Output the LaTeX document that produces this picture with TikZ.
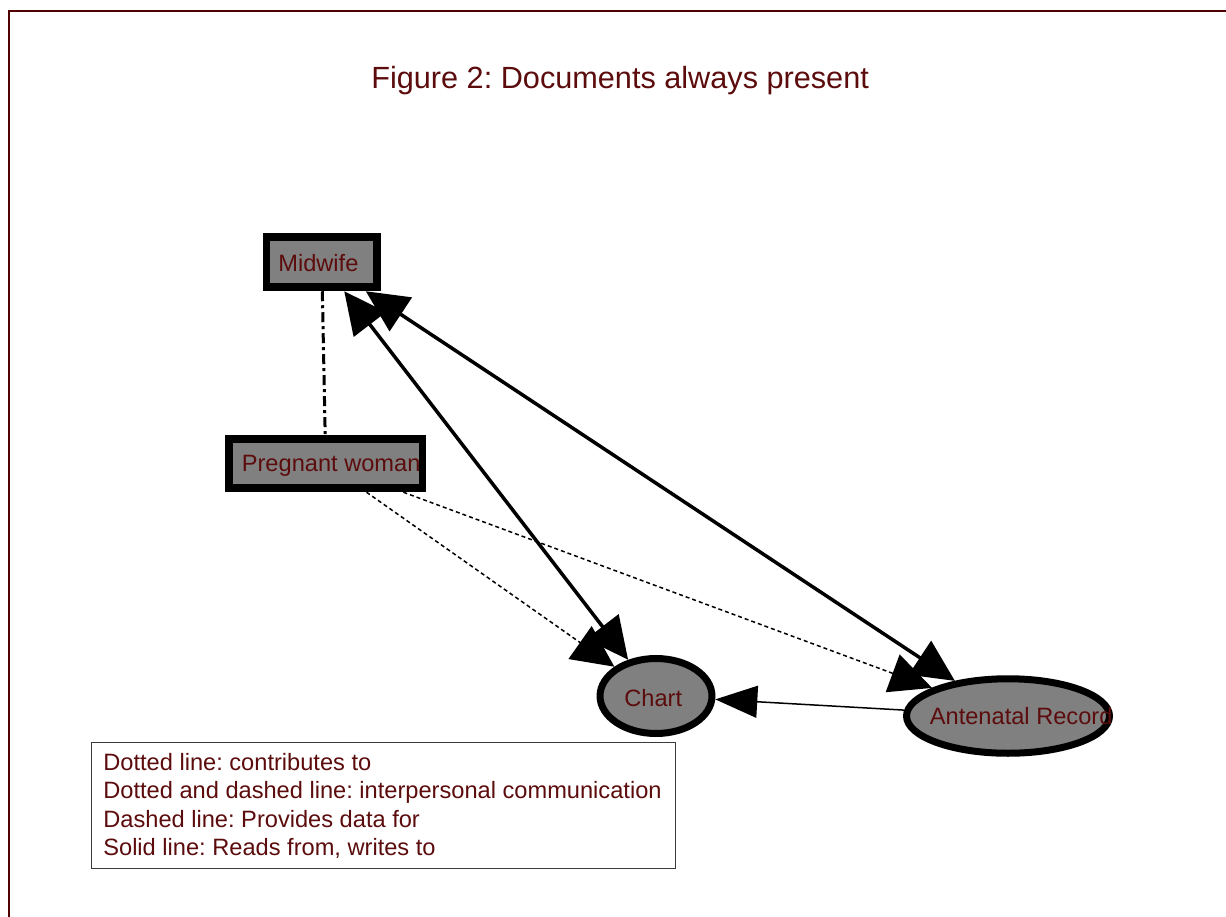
\documentclass[tikz,border=0pt]{standalone}
\usepackage{fontspec}
\setmainfont{Liberation Sans}
\usetikzlibrary{arrows.meta,shapes.geometric}
\frenchspacing

\definecolor{framered}{RGB}{80,0,0}
\definecolor{inkred}{RGB}{92,12,12}
\definecolor{nodegray}{RGB}{128,128,128}
\definecolor{legendline}{RGB}{60,60,60}

\tikzset{
  actor/.style={rectangle, draw=black, fill=nodegray, line width=0.15cm,
    inner sep=0pt, outer sep=0.085cm},
  doc/.style={ellipse, draw=black, fill=nodegray, line width=0.14cm,
    inner sep=0pt, outer sep=0.07cm},
  lbl/.style={inner sep=0pt, anchor=base west, text=inkred,
    font=\fontsize{13.45}{16}\selectfont},
  bigtip/.tip={Triangle[length=0.84cm, width=0.8cm]},
  smalltip/.tip={Triangle[length=0.84cm, width=0.64cm]},
  readwrite/.style={draw=black, line width=0.07cm, bigtip-bigtip},
  contributes/.style={draw=black, line width=0.03cm,
    dash pattern=on 0.08cm off 0.06cm, -bigtip},
  provides/.style={draw=black, line width=0.03cm, -smalltip},
  talks/.style={draw=black, line width=0.06cm,
    dash pattern=on 0.2cm off 0.08cm on 0.06cm off 0.08cm},
}

\begin{document}
\begin{tikzpicture}[x=0.02cm, y=-0.02cm]
  \useasboundingbox (0,0) rectangle (1226,916);

  % page frame (left and top edges)
  \draw[framered, line width=0.04cm] (9,930) -- (9,11) -- (1240,11);

  % title
  \node[lbl, font=\fontsize{17.45}{20}\selectfont] (title) at (371,88)
    {Figure 2: Documents always present};

  % actors and documents
  \node[actor, minimum width=2.21cm, minimum height=1.0cm] (mw) at (321.75,262) {};
  \node[actor, minimum width=3.87cm, minimum height=0.98cm] (pw) at (325.75,463.5) {};
  \node[doc, minimum width=2.24cm, minimum height=1.5cm] (chart) at (656,696) {};
  \node[doc, minimum width=4.06cm, minimum height=1.49cm] (ar) at (1008,716) {};

  % relations
  \draw[talks] (mw) -- (pw);
  \draw[contributes] (pw) -- (chart);
  \draw[contributes] (pw) -- (ar);
  \draw[readwrite] (mw) -- (chart);
  \draw[readwrite] (mw) -- (ar);
  \draw[provides] (ar) -- (chart);

  % labels, set over the shapes
  \node[lbl] (mw-text) at (278,271.5) {Midwife};
  \node[lbl] (pw-text) at (241.5,471.5) {Pregnant woman};
  \node[lbl] (chart-text) at (624,706) {Chart};
  \node[lbl] (ar-text) at (929.5,724) {Antenatal Record};

  % legend
  \node[draw=legendline, line width=0.02cm, fill=white, inner sep=0pt,
        minimum width=11.7cm, minimum height=2.52cm] (legend) at (383.5,805) {};
  \node[lbl] (leg1) at (103,770) {Dotted line: contributes to};
  \node[lbl] (leg2) at (103,798.5) {Dotted and dashed line: interpersonal communication};
  \node[lbl] (leg3) at (103,827) {Dashed line: Provides data for};
  \node[lbl] (leg4) at (103,855.5) {Solid line: Reads from, writes to};
\end{tikzpicture}
\end{document}
